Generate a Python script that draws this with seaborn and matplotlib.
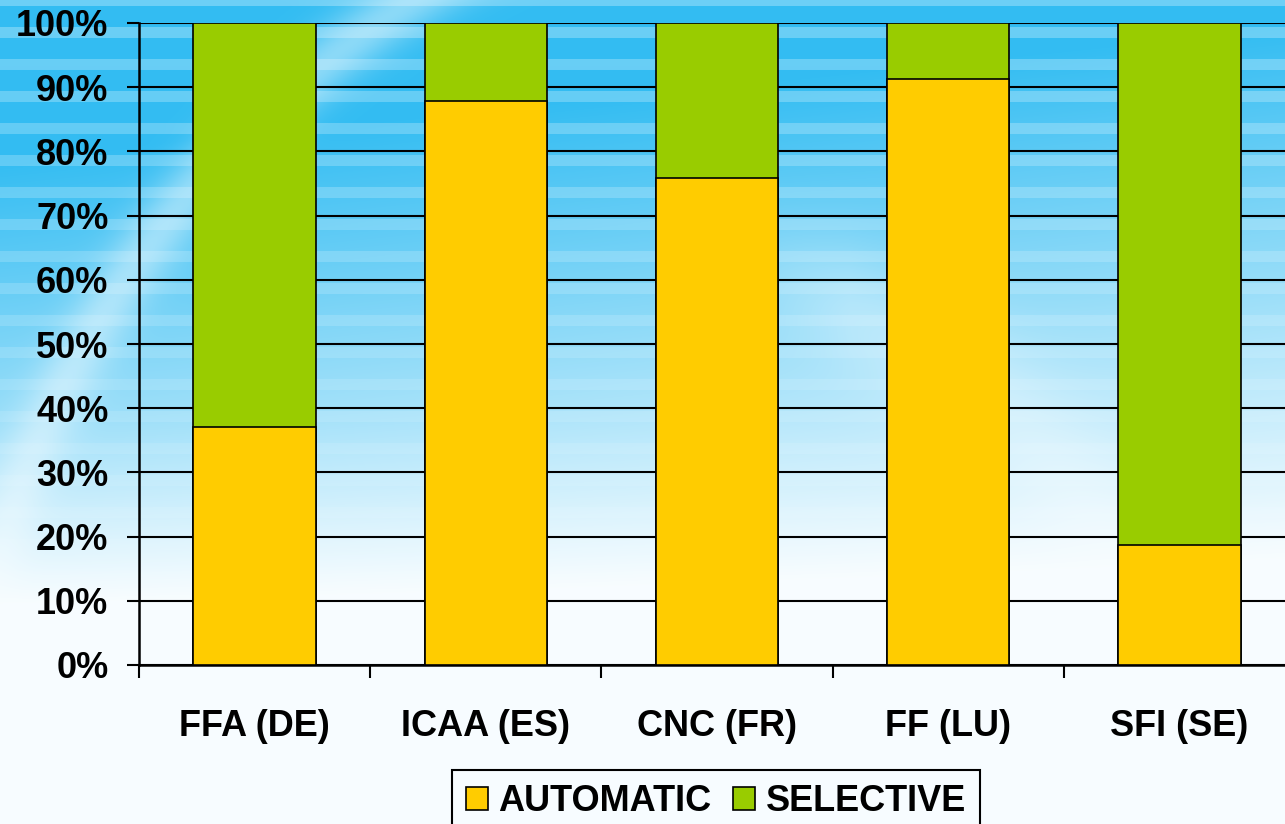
import numpy as np
import pandas as pd
import matplotlib
matplotlib.use("Agg")
import matplotlib.pyplot as plt
from matplotlib.patches import Patch
import seaborn as sns

# Data (share of funding, %)
agencies = ["FFA (DE)", "ICAA (ES)", "CNC (FR)", "FF (LU)", "SFI (SE)"]
automatic = [37.1, 87.9, 75.9, 91.3, 18.7]
selective = [62.9, 12.1, 24.1, 8.7, 81.3]
yticks = [0, 10, 20, 30, 40, 50, 60, 70, 80, 90, 100]
ytick_labels = ["0%", "10%", "20%", "30%", "40%", "50%", "60%", "70%", "80%", "90%", "100%"]

AUTO_COLOR = "#ffcc00"
SEL_COLOR = "#99cc00"

sns.set_theme(style="white")
plt.rcParams["font.family"] = ["Liberation Sans", "DejaVu Sans"]
plt.rcParams["font.weight"] = "bold"
plt.rcParams["text.color"] = "black"
plt.rcParams["xtick.color"] = "black"
plt.rcParams["ytick.color"] = "black"

df = pd.DataFrame({"agency": agencies, "automatic": automatic, "selective": selective})
df["total"] = df["automatic"] + df["selective"]

W, H = 1285, 824
fig = plt.figure(figsize=(W / 100, H / 100), dpi=100)

# Slide-like background: blue stripes fading to white towards the bottom
yy, xx = np.mgrid[0:H, 0:W]
fy = yy / H
fx = xx / W
left_boost = (1 - fx) * 0.25 * np.clip((0.85 - fy) / 0.35, 0, 1)
blue = np.clip(1.05 - fy * 1.55 + left_boost, 0, 1) ** 1.1
stripes = 0.5 + 0.5 * np.cos(2 * np.pi * yy / 32.0)
stripes = (stripes > 0.72) * 0.3 * np.clip(1 - fy * 1.2, 0, 1)
# soft light arcs
arc1_r = np.sqrt((xx - 930) ** 2 + (yy - 820) ** 2)
arc1 = np.exp(-((arc1_r - 970) / 30.0) ** 2) * 0.45
arc2_r = np.sqrt((xx - 620) ** 2 + (yy - 820) ** 2)
arc2 = np.exp(-((arc2_r - 560) / 60.0) ** 2) * 0.35 * np.clip((xx - 700) / 150, 0, 1)
top = np.array([0.20, 0.74, 0.95])
white = np.array([0.97, 0.99, 1.0])
amt = blue * (1 - stripes) * (1 - arc1) * (1 - arc2)
img = white[None, None, :] * (1 - amt[..., None]) + top[None, None, :] * amt[..., None]
bg = fig.add_axes([0, 0, 1, 1], zorder=-10)
bg.imshow(img, aspect="auto", interpolation="bilinear")
bg.axis("off")

ax = fig.add_axes([139 / W, 1 - 665 / H, 1156 / W, 642 / H])
ax.set_facecolor("none")

# Stacked bars: full height in green, automatic share on top in yellow
sns.barplot(data=df, x="agency", y="total", color=SEL_COLOR, width=0.53,
            edgecolor="black", linewidth=1.2, saturation=1, ax=ax, zorder=3)
sns.barplot(data=df, x="agency", y="automatic", color=AUTO_COLOR, width=0.53,
            edgecolor="black", linewidth=1.2, saturation=1, ax=ax, zorder=4)

ax.set_ylim(0, 100)
ax.set_xlim(-0.5, len(agencies) - 0.5)
ax.set_yticks(yticks)
ax.set_yticklabels(ytick_labels)
ax.yaxis.grid(True, color="black", linewidth=1.5, zorder=1)
ax.set_axisbelow(True)
ax.set_xlabel("")
ax.set_ylabel("")

for side in ["left", "bottom"]:
    ax.spines[side].set_color("black")
    ax.spines[side].set_linewidth(1.8)
ax.spines["top"].set_visible(False)
ax.spines["right"].set_visible(False)

ax.tick_params(axis="y", which="major", left=True, length=9, width=1.5,
               color="black", labelcolor="black", pad=13, labelsize=26)
ax.set_xticks(range(len(agencies)))
ax.set_xticklabels(agencies)
ax.tick_params(axis="x", which="major", length=0, pad=32, labelsize=26, labelcolor="black")
ax.set_xticks(np.arange(-0.5, len(agencies) + 0.5, 1), minor=True)
ax.tick_params(axis="x", which="minor", bottom=True, length=9, width=1.5, color="black")
for lab in ax.get_xticklabels() + ax.get_yticklabels():
    lab.set_fontweight("bold")

handles = [Patch(facecolor=AUTO_COLOR, edgecolor="black", linewidth=1.2, label="AUTOMATIC"),
           Patch(facecolor=SEL_COLOR, edgecolor="black", linewidth=1.2, label="SELECTIVE")]
leg = fig.legend(handles=handles, loc="upper center", bbox_to_anchor=(716 / W, 1 - 770 / H),
                 ncol=2, frameon=True, fancybox=False, edgecolor="black",
                 facecolor="none", framealpha=1.0, borderpad=0.4, borderaxespad=0,
                 handlelength=0.6, handleheight=0.6, handletextpad=0.3, columnspacing=0.6,
                 labelcolor="black", prop={"weight": "bold", "size": 26})
leg.get_frame().set_linewidth(1.5)

fig.savefig("out.png", dpi=100)
